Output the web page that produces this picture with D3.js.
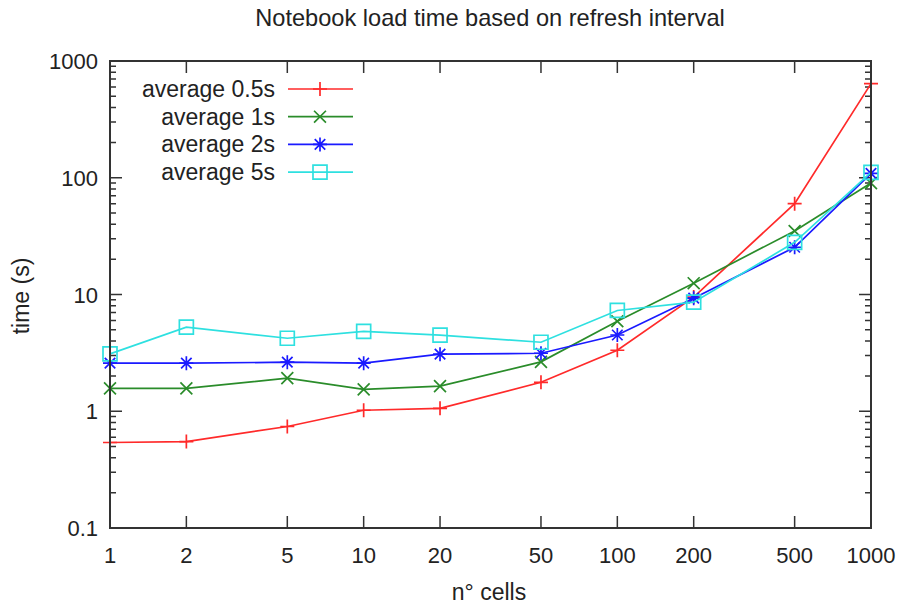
<!DOCTYPE html>
<html>
<head>
<meta charset="utf-8">
<script src="https://cdn.jsdelivr.net/npm/d3@7"></script>
<style>
  body { margin: 0; background: #fff; }
  text { font-family: "Liberation Sans", Arial, sans-serif; fill: #222; }
</style>
</head>
<body>
<div id="chart"></div>
<script>
// data
var cells = [1, 2, 5, 10, 20, 50, 100, 200, 500, 1000];
var avg05 = [0.54, 0.55, 0.74, 1.02, 1.06, 1.77, 3.33, 9.5, 60, 640];
var avg1  = [1.57, 1.57, 1.92, 1.54, 1.64, 2.65, 5.9, 12.5, 35, 90];
var avg2  = [2.58, 2.58, 2.63, 2.58, 3.08, 3.14, 4.5, 9.3, 25.4, 109];
var avg5  = [3.1, 5.25, 4.22, 4.84, 4.48, 3.9, 7.3, 8.6, 28, 111];
var seriesNames = ["average 0.5s", "average 1s", "average 2s", "average 5s"];
var xTicks = [1, 2, 5, 10, 20, 50, 100, 200, 500, 1000];
var yTicks = [0.1, 1, 10, 100, 1000];

var width = 901, height = 612;
var pLeft = 110, pRight = 871, pTop = 61, pBottom = 528;

var svg = d3.select("#chart")
  .append("svg")
    .attr("width", width)
    .attr("height", height);

var x = d3.scaleLog().domain([1, 1000]).range([pLeft, pRight]);
var y = d3.scaleLog().domain([0.1, 1000]).range([pBottom, pTop]);

var colors = ["#ff2a2a", "#2a8c2a", "#1a1aff", "#2ee0e0"];
var shapes = ["plus", "cross", "star", "square"];
var allSeries = [avg05, avg1, avg2, avg5];

// minor y ticks 2..9 in each decade
var yMinor = [];
for (let d = 0.1; d < 1000; d *= 10) {
  for (let k = 2; k <= 9; k++) yMinor.push(+(d * k).toPrecision(3));
}

var axisColor = "#333";
var g = svg.append("g");

// ticks on all four sides, pointing inwards
g.selectAll(".xt").data(xTicks).enter().append("path")
  .attr("d", d => `M${x(d)},${pBottom}v-12M${x(d)},${pTop}v12`)
  .attr("stroke", axisColor).attr("stroke-width", 1.5);
g.selectAll(".yt").data(yTicks).enter().append("path")
  .attr("d", d => `M${pLeft},${y(d)}h12M${pRight},${y(d)}h-12`)
  .attr("stroke", axisColor).attr("stroke-width", 1.5);
g.selectAll(".ym").data(yMinor).enter().append("path")
  .attr("d", d => `M${pLeft},${y(d)}h6M${pRight},${y(d)}h-6`)
  .attr("stroke", axisColor).attr("stroke-width", 1.5);

// tick labels
g.selectAll(".xl").data(xTicks).enter().append("text")
  .attr("x", d => x(d)).attr("y", pBottom + 35)
  .attr("text-anchor", "middle").attr("font-size", 22)
  .text(d => d);
g.selectAll(".yl").data(yTicks).enter().append("text")
  .attr("x", pLeft - 12).attr("y", d => y(d) + 8)
  .attr("text-anchor", "end").attr("font-size", 22)
  .text(d => d);

// titles
svg.append("text").attr("x", 490).attr("y", 26)
  .attr("text-anchor", "middle").attr("font-size", 23.6)
  .text("Notebook load time based on refresh interval");
svg.append("text").attr("x", 489).attr("y", 600)
  .attr("text-anchor", "middle").attr("font-size", 23)
  .text("n\u00b0 cells");
svg.append("text")
  .attr("transform", "translate(29,296) rotate(-90)")
  .attr("text-anchor", "middle").attr("font-size", 23)
  .text("time (s)");

function marker(sel, shape, color) {
  var s = 7;
  var d;
  if (shape == "plus") d = `M${-s},0h${2*s}M0,${-s}v${2*s}`;
  else if (shape == "cross") d = `M${-s*0.85},${-s*0.85}L${s*0.85},${s*0.85}M${-s*0.85},${s*0.85}L${s*0.85},${-s*0.85}`;
  else if (shape == "star") d = `M${-s},0h${2*s}M0,${-s}v${2*s}M${-s*0.75},${-s*0.75}L${s*0.75},${s*0.75}M${-s*0.75},${s*0.75}L${s*0.75},${-s*0.75}`;
  else d = `M${-s},${-s}h${2*s}v${2*s}h${-2*s}Z`;
  sel.append("path").attr("d", d)
    .attr("fill", "none").attr("stroke", color).attr("stroke-width", 1.7);
}

var line = d3.line().x(d => x(d[0])).y(d => y(d[1]));

allSeries.forEach(function(vals, i) {
  var pts = cells.map((c, j) => [c, vals[j]]);
  svg.append("path").datum(pts)
    .attr("d", line)
    .attr("fill", "none")
    .attr("stroke", colors[i])
    .attr("stroke-width", 1.7);
  pts.forEach(function(p) {
    var m = svg.append("g").attr("transform", `translate(${x(p[0])},${y(p[1])})`);
    marker(m, shapes[i], colors[i]);
  });
});

// legend
seriesNames.forEach(function(name, i) {
  var ly = 89 + i * 27.7;
  svg.append("text").attr("x", 275).attr("y", ly + 8)
    .attr("text-anchor", "end").attr("font-size", 23)
    .text(name);
  svg.append("path").attr("d", `M288,${ly}H353`)
    .attr("stroke", colors[i]).attr("stroke-width", 1.7);
  var m = svg.append("g").attr("transform", `translate(320,${ly})`);
  marker(m, shapes[i], colors[i]);
});

// border on top
svg.append("rect")
  .attr("x", pLeft).attr("y", pTop)
  .attr("width", pRight - pLeft).attr("height", pBottom - pTop)
  .attr("fill", "none").attr("stroke", axisColor).attr("stroke-width", 2);
</script>
</body>
</html>
